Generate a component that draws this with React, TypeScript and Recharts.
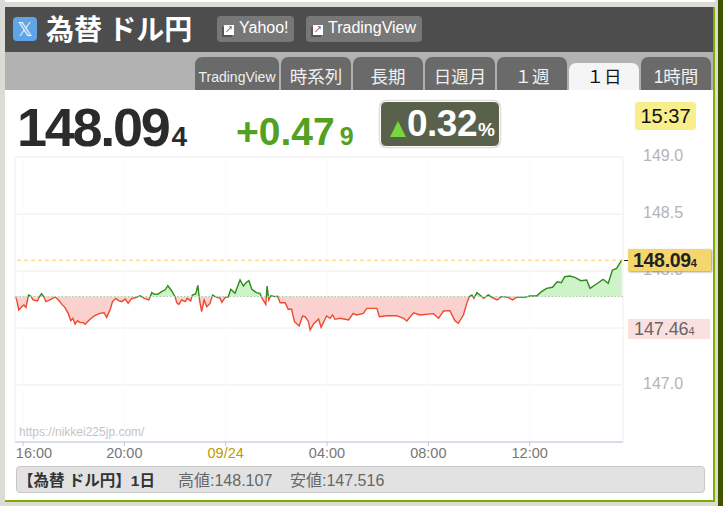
import React from "react";
import { ComposedChart, Area, XAxis, YAxis, CartesianGrid, ReferenceLine } from "recharts";

const minutes = [0,4,9,16,21,26,32,37,43,53,58,63,69,73,83,89,95,103,111,118,126,132,137,142,148,154,162,166,174,182,189,201,211,217,225,231,239,245,253,261,268,276,288,296,306,317,324,330,339,347,355,362,371,379,383,388,395,403,408,416,420,428,433,437,442,448,454,462,468,474,486,490,498,505,511,521,533,541,547,554,561,572,580,584,594,597,601,606,616,622,628,640,647,655,662,673,681,687,695,699,707,719,725,738,746,752,758,770,790,801,809,825,833,857,863,880,904,920,928,944,959,991,1003,1015,1030,1042,1050,1062,1070,1076,1082,1087,1094,1101,1110,1121,1129,1142,1152,1168,1178,1188,1208,1219,1235,1247,1259,1273,1284,1294,1302,1314,1326,1340,1354,1362,1377,1393,1405,1415,1425,1437];
const prices = [147.775,147.746,147.658,147.687,147.702,147.681,147.789,147.78,147.746,147.737,147.775,147.801,147.769,147.731,147.746,147.76,147.772,147.746,147.707,147.681,147.628,147.564,147.585,147.535,147.564,147.547,147.547,147.532,147.564,147.59,147.608,147.628,147.634,147.593,147.658,147.731,147.76,147.74,147.731,147.754,147.716,147.757,147.769,147.783,147.76,147.746,147.81,147.795,147.798,147.819,147.833,147.871,147.827,147.775,147.722,147.707,147.746,147.731,147.76,147.737,147.789,147.798,147.874,147.746,147.643,147.746,147.687,147.716,147.789,147.775,147.76,147.725,147.769,147.772,147.839,147.804,147.921,147.868,147.897,147.915,147.839,147.81,147.804,147.769,147.707,147.868,147.746,147.783,147.775,147.778,147.722,147.722,147.664,147.664,147.555,147.517,147.605,147.599,147.555,147.482,147.535,147.579,147.506,147.605,147.585,147.614,147.576,147.585,147.57,147.628,147.614,147.628,147.672,147.672,147.599,147.608,147.608,147.585,147.561,147.634,147.614,147.626,147.585,147.649,147.652,147.564,147.541,147.614,147.716,147.775,147.789,147.76,147.81,147.79,147.76,147.79,147.769,147.746,147.775,147.769,147.746,147.769,147.769,147.781,147.781,147.819,147.848,147.857,147.906,147.898,147.95,147.956,147.944,147.915,147.921,147.848,147.886,147.927,147.892,148.009,148.023,148.097];
const xTicks = [19,259,499,739,979,1219];
const xLabels = ["16:00","20:00","09/24","04:00","08:00","12:00"];
const yTicks = [149,148.5,148,147.5,147];
const BASE = 147.776;
const CURRENT = 148.094;
const Y_MIN = 146.5;
const Y_MAX = 149;
const tabs = ["TradingView","時系列","長期","日週月","１週","１日","1時間"];

const chartData = minutes.map((m, i) => ({ m, price: prices[i] }));

const W = 723, H = 506, TOP = 157, PLOT_H = 285;
const LATIN = '"Liberation Sans", "Noto Sans CJK JP", sans-serif';
const split = (Y_MAX - BASE) / (Y_MAX - Y_MIN);

const abs = (left: number, top: number, width: number, height: number, extra: React.CSSProperties = {}): React.CSSProperties => ({
  position: "absolute", left, top, width, height, ...extra,
});

const XTick = (props: any) => {
  const i = xTicks.indexOf(props.payload.value);
  const isDate = xLabels[i] === "09/24";
  return (
    <text x={i === 0 ? 34 : props.x} y={props.y + 10} textAnchor="middle" fontSize={14.5} fontFamily={LATIN}
      fill={isDate ? "#c09a00" : "#777777"}>{xLabels[i]}</text>
  );
};
const YTick = (props: any) => (
  <text x={643} y={props.y + 4} fontSize={16} fontFamily={LATIN} fill="#b4b4b4">{Number(props.payload.value).toFixed(1)}</text>
);

const IconBtn = ({ left, width, label }: { left: number; width: number; label: string }) => (
  <div style={abs(left, 16, width, 26, { background: "#777777", borderRadius: 4 })}>
    <div style={abs(5, 11, 10, 10, { background: "#555" })} />
    <div style={abs(7, 9, 10, 10, { background: "#fff", color: "#333", fontSize: 8, lineHeight: "10px", textAlign: "center" })}>↗</div>
    <div style={abs(22, 0, width - 22, 24, { color: "#fff", fontSize: 16, lineHeight: "24px", fontFamily: LATIN, whiteSpace: "nowrap" })}>{label}</div>
  </div>
);

const tabLefts = [195, 281, 353, 425, 497, 569, 641];
const tabWidths = [84, 70, 70, 70, 70, 70, 70];

export default function App() {
  return (
    <div style={abs(0, 0, W, H, { background: "#dcdbd6", overflow: "hidden", fontFamily: LATIN })}>
      <div style={abs(5, 0, 710, 2, { background: "#ffffff" })} />
      <div style={abs(718, 0, 5, H, { background: "#3f5200" })} />
      <div style={abs(5, 7, 708, 493, { background: "#ffffff" })} />
      <div style={abs(713, 7, 2, 494, { background: "#7fae00" })} />
      <div style={abs(5, 500, 710, 2, { background: "#7fae00" })} />
      <div style={abs(5, 7, 708, 45, { background: "#4d4d4d" })} />
      <div style={abs(5, 52, 708, 38, { background: "#b2b2b2" })} />

      <div style={abs(13, 17, 24, 24, { background: "#5fa5e6", borderRadius: 4, color: "#fff", fontSize: 19, lineHeight: "24px", textAlign: "center", fontFamily: '"DejaVu Sans", sans-serif' })}>𝕏</div>
      <div style={abs(46, 9, 160, 38, { color: "#fff", fontSize: 28, fontWeight: 700, lineHeight: "38px", whiteSpace: "nowrap", fontFamily: '"Noto Sans CJK JP", sans-serif' })}>為替 ドル円</div>
      <IconBtn left={217} width={77} label="Yahoo!" />
      <IconBtn left={306} width={116} label="TradingView" />

      {tabs.map((t, i) => {
        const active = i === 5;
        return (
          <div key={t} style={abs(tabLefts[i], active ? 63 : 57, tabWidths[i], active ? 27 : 33, {
            background: active ? "#f5f5f5" : "#6a6a6a", color: active ? "#111" : "#f0f0f0", borderRadius: "7px 7px 0 0",
            fontSize: i === 0 ? 14 : 17.5, lineHeight: active ? "28px" : "40px", textAlign: "center", whiteSpace: "nowrap",
            fontFamily: '"Liberation Sans", "Noto Sans CJK JP", sans-serif',
          })}>{t}</div>
        );
      })}

      <ComposedChart width={W} height={H} data={chartData} margin={{ top: TOP, right: 0, bottom: 34, left: 15 }}
        style={{ position: "absolute", left: 0, top: 0 }}>
        <defs>
          <linearGradient id="strokeSplit" gradientUnits="userSpaceOnUse" x1="0" x2="0" y1={TOP} y2={TOP + PLOT_H}>
            <stop offset={split} stopColor="#2f8a1f" />
            <stop offset={split} stopColor="#f0482e" />
          </linearGradient>
          <linearGradient id="fillSplit" gradientUnits="userSpaceOnUse" x1="0" x2="0" y1={TOP} y2={TOP + PLOT_H}>
            <stop offset={split} stopColor="#cef3c8" />
            <stop offset={split} stopColor="#fbd1cf" />
          </linearGradient>
        </defs>
        <CartesianGrid stroke="#ececec" vertical={false} />
        <CartesianGrid stroke="#fbfbfb" horizontal={false} />
        <XAxis dataKey="m" type="number" domain={[0, 1440]} ticks={xTicks} height={30} interval={0}
          axisLine={{ stroke: "#b9c5de" }} tickLine={{ stroke: "#b9c5de" }} tickSize={4} tick={<XTick />} />
        <YAxis orientation="right" type="number" domain={[Y_MIN, Y_MAX]} ticks={yTicks} width={100} interval={0}
          axisLine={false} tickLine={false} tick={<YTick />} />
        <ReferenceLine x={0} stroke="#f0f0f0" />
        <ReferenceLine x={1440} stroke="#f0f0f0" />
        <Area dataKey="price" type="linear" baseValue={BASE} stroke="url(#strokeSplit)" strokeWidth={1.4}
          fill="url(#fillSplit)" fillOpacity={1} dot={false} activeDot={false} isAnimationActive={false} />
        <ReferenceLine y={BASE} stroke="#b9c4b4" strokeDasharray="1.5 2" />
        <ReferenceLine y={CURRENT} stroke="#f7d469" strokeDasharray="4 3" />
      </ComposedChart>

      <div style={abs(19, 425, 140, 15, { color: "#c4c4c4", fontSize: 12, lineHeight: "15px", whiteSpace: "nowrap" })}>https://nikkei225jp.com/</div>

      <div style={abs(17, 93, 180, 64, { color: "#2b2b2b", fontWeight: 700, lineHeight: "68px", whiteSpace: "nowrap" })}>
        <span style={{ fontSize: 54, letterSpacing: -2.3 }}>148.09</span>
        <span style={{ fontSize: 28, marginLeft: 3 }}>4</span>
      </div>
      <div style={abs(236, 102, 130, 60, { color: "#54a020", fontWeight: 700, lineHeight: "60px", whiteSpace: "nowrap" })}>
        <span style={{ fontSize: 39 }}>+0.47</span>
        <span style={{ fontSize: 25, marginLeft: 5 }}>9</span>
      </div>
      <div style={abs(380, 101, 120, 46, { background: "#5a614b", borderRadius: 6, boxSizing: "border-box", border: "1px solid #fff", boxShadow: "0 0 2px #777" })}>
        <div style={abs(9, 19, 0, 0, { borderLeft: "8px solid transparent", borderRight: "8px solid transparent", borderBottom: "16px solid #76d83e" })} />
        <div style={abs(26, 0, 92, 44, { color: "#fff", fontWeight: 700, lineHeight: "44px", whiteSpace: "nowrap" })}>
          <span style={{ fontSize: 37, letterSpacing: -0.5 }}>0.32</span>
          <span style={{ fontSize: 19, marginLeft: 1 }}>%</span>
        </div>
      </div>
      <div style={abs(635, 102, 61, 28, { background: "#f8ee8c", borderRadius: 3, color: "#111", fontSize: 20, lineHeight: "29px", textAlign: "center" })}>15:37</div>

      <div style={abs(624, 260, 6, 1, { background: "#222" })} />
      <div style={abs(628, 249, 83, 22, { background: "#f5d66e", boxShadow: "1px 1px 2px #999", color: "#222", fontWeight: 700, lineHeight: "22px", paddingLeft: 5, boxSizing: "border-box", whiteSpace: "nowrap" })}>
        <span style={{ fontSize: 19.5, letterSpacing: -0.3 }}>148.09</span><span style={{ fontSize: 11 }}>4</span>
      </div>
      <div style={abs(628, 319, 82, 20, { background: "#fbe0e0", color: "#666", lineHeight: "20px", paddingLeft: 6, boxSizing: "border-box", whiteSpace: "nowrap" })}>
        <span style={{ fontSize: 18, letterSpacing: -0.1 }}>147.46</span><span style={{ fontSize: 11 }}>4</span>
      </div>

      <div style={abs(16, 466, 689, 27, { background: "#e2e2e2", border: "1px solid #c8c8c8", borderRadius: 4, boxSizing: "border-box" })}>
        <div style={abs(1, 0, 150, 25, { color: "#333", fontSize: 15.5, fontWeight: 700, lineHeight: "27px", whiteSpace: "nowrap" })}>【為替 ドル円】1日</div>
        <div style={abs(161, 0, 110, 25, { color: "#666", fontSize: 16, lineHeight: "27px", whiteSpace: "nowrap" })}>高値:148.107</div>
        <div style={abs(273, 0, 110, 25, { color: "#666", fontSize: 16, lineHeight: "27px", whiteSpace: "nowrap" })}>安値:147.516</div>
      </div>
    </div>
  );
}
